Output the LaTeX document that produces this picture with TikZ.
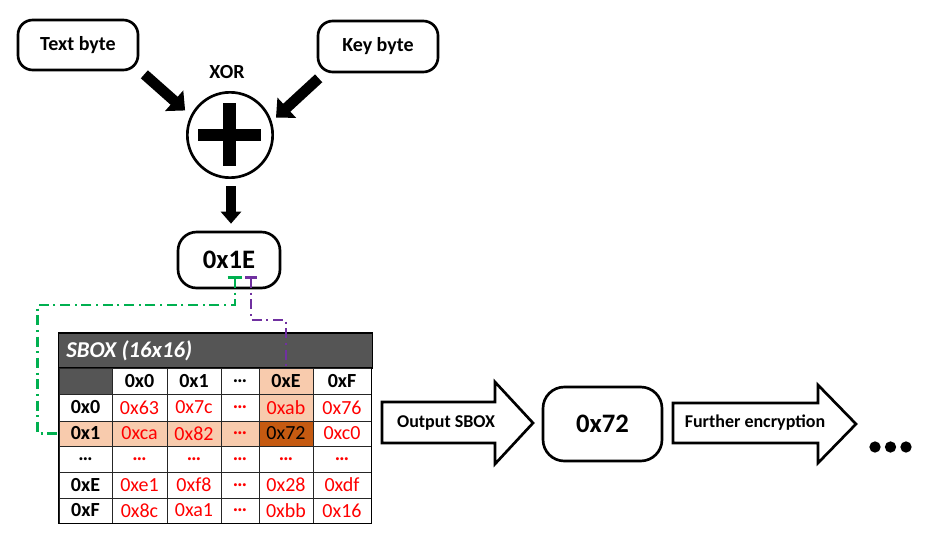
\documentclass[tikz,border=0pt]{standalone}
\usepackage{fontspec}
\setmainfont{Carlito}
\usetikzlibrary{arrows.meta}
\definecolor{lorange}{HTML}{F8CBAD}
\definecolor{dorange}{HTML}{C55A11}
\definecolor{hdrgrey}{HTML}{555555}
\definecolor{xgreen}{HTML}{00B050}
\definecolor{xpurple}{HTML}{7030A0}
\definecolor{vred}{HTML}{FF0000}
\begin{document}
\begin{tikzpicture}[x=0.75pt,y=-0.75pt,
  rbox/.style={draw, line width=2pt, rounded corners=11pt, inner sep=0pt, font=\bfseries\fontsize{15}{18}\selectfont},
  bigbox/.style={draw, line width=2pt, rounded corners=14pt, inner sep=0pt, font=\bfseries\fontsize{20}{24}\selectfont},
  fatarrow/.style={line width=8pt, -{Triangle[length=11pt,width=20pt]}},
  blockarrow/.style={draw, line width=2pt, fill=white, line join=miter},
  arrlabel/.style={font=\bfseries\fontsize{13.5}{16}\selectfont, inner sep=0pt},
  tcell/.style={draw=black!85, line width=0.7pt, inner sep=0pt, font=\fontsize{15}{18}\selectfont},
  hcell/.style={tcell, font=\bfseries\fontsize{15}{18}\selectfont},
  vcell/.style={tcell, text=vred},
  ptr/.style={line width=1.9pt, dash pattern=on 7.5pt off 3.5pt on 1.5pt off 3.5pt},
  dot/.style={circle, fill=black, inner sep=0pt, minimum size=8.5pt}
]
\useasboundingbox (0,0) rectangle (930,535);

% ---------- top part ----------
\node[rbox, minimum width=90pt, minimum height=37.5pt] (tb) at (78,45) {Text byte};
\node[rbox, minimum width=90pt, minimum height=38.25pt] (kb) at (378,46.5) {Key byte};
\node[font=\bfseries\fontsize{15}{18}\selectfont, inner sep=0pt] (xorlbl) at (227,72) {XOR};
\node[circle, draw, line width=2pt, minimum size=64pt, inner sep=0pt] (xor) at (230,135) {};
\fill ([shift={(-32,-6)}]xor.center) rectangle ([shift={(31,6)}]xor.center);
\fill ([shift={(-7,-32)}]xor.center) rectangle ([shift={(6,31)}]xor.center);

\draw[fatarrow] ([shift={(5,3)}]tb.south east) -- ([shift={(-6.4,-3.2)}]xor.151);
\draw[fatarrow] ([shift={(2,5)}]kb.south west) -- ([shift={(4.9,-1.6)}]xor.21);

\node[bigbox, minimum width=76.5pt, minimum height=42pt] (x1e) at (229,260) {0x1E};
\draw[line width=7pt, -{Triangle[length=9pt,width=15pt]}] ([shift={(1,7)}]xor.south) -- ([shift={(2,-7)}]x1e.north);

% ---------- table ----------
\node[draw=black, line width=1pt, fill=hdrgrey, minimum width=235.5pt, minimum height=26.25pt, inner sep=0pt] (title) at (215.5,350.5) {};
\node[anchor=west, text=white, font=\bfseries\itshape\fontsize{17}{20}\selectfont, inner sep=0pt] (titletxt) at (66,350.5) {SBOX (16x16)};

% header row (y 381, h 19.5pt)
\node[tcell, fill=hdrgrey, minimum width=39.75pt, minimum height=19.5pt] (corner) at (85.5,381) {};
\node[hcell, fill=white, minimum width=41.25pt, minimum height=19.5pt] (h0) at (139.5,381) {0x0};
\node[hcell, fill=white, minimum width=40.5pt, minimum height=19.5pt] (h1) at (194,381) {0x1};
\node[hcell, fill=white, minimum width=28.5pt, minimum height=19.5pt] (hd) at (240,381) {…};
\node[hcell, fill=lorange, minimum width=40.5pt, minimum height=19.5pt] (hE) at (286,381) {0xE};
\node[hcell, fill=white, minimum width=43.5pt, minimum height=19.5pt] (hF) at (342,381) {0xF};

% row 0x0 (y 407.5, h 20.25pt)
\node[hcell, fill=white, minimum width=39.75pt, minimum height=20.25pt] (r0) at (85.5,407.5) {0x0};
\node[vcell, fill=white, minimum width=41.25pt, minimum height=20.25pt] (v00) at (139.5,407.5) {0x63};
\node[vcell, fill=white, minimum width=40.5pt, minimum height=20.25pt] (v01) at (194,407.5) {0x7c};
\node[vcell, fill=white, minimum width=28.5pt, minimum height=20.25pt, font=\bfseries\fontsize{15}{18}\selectfont] (v0d) at (240,407.5) {…};
\node[vcell, fill=lorange, minimum width=40.5pt, minimum height=20.25pt] (v0E) at (286,407.5) {0xab};
\node[vcell, fill=white, minimum width=43.5pt, minimum height=20.25pt] (v0F) at (342,407.5) {0x76};

% row 0x1 (y 433.5, h 18.75pt)
\node[hcell, fill=lorange, minimum width=39.75pt, minimum height=18.75pt] (r1) at (85.5,433.5) {0x1};
\node[vcell, fill=lorange, minimum width=41.25pt, minimum height=18.75pt] (v10) at (139.5,433.5) {0xca};
\node[vcell, fill=lorange, minimum width=40.5pt, minimum height=18.75pt] (v11) at (194,433.5) {0x82};
\node[vcell, fill=lorange, minimum width=28.5pt, minimum height=18.75pt, font=\bfseries\fontsize{15}{18}\selectfont] (v1d) at (240,433.5) {…};
\node[tcell, fill=dorange, text=black, minimum width=40.5pt, minimum height=18.75pt] (v1E) at (286,433.5) {0x72};
\node[vcell, fill=white, minimum width=43.5pt, minimum height=18.75pt] (v1F) at (342,433.5) {0xc0};

% row ... (y 459, h 19.5pt)
\node[hcell, fill=white, minimum width=39.75pt, minimum height=19.5pt] (rd) at (85.5,459) {…};
\node[vcell, fill=white, minimum width=41.25pt, minimum height=19.5pt, font=\bfseries\fontsize{15}{18}\selectfont] (vd0) at (139.5,459) {…};
\node[vcell, fill=white, minimum width=40.5pt, minimum height=19.5pt, font=\bfseries\fontsize{15}{18}\selectfont] (vd1) at (194,459) {…};
\node[vcell, fill=white, minimum width=28.5pt, minimum height=19.5pt, font=\bfseries\fontsize{15}{18}\selectfont] (vdd) at (240,459) {…};
\node[vcell, fill=white, minimum width=40.5pt, minimum height=19.5pt, font=\bfseries\fontsize{15}{18}\selectfont] (vdE) at (286,459) {…};
\node[vcell, fill=white, minimum width=43.5pt, minimum height=19.5pt, font=\bfseries\fontsize{15}{18}\selectfont] (vdF) at (342,459) {…};

% row 0xE (y 485, h 19.5pt)
\node[hcell, fill=white, minimum width=39.75pt, minimum height=19.5pt] (rE) at (85.5,485) {0xE};
\node[vcell, fill=white, minimum width=41.25pt, minimum height=19.5pt] (vE0) at (139.5,485) {0xe1};
\node[vcell, fill=white, minimum width=40.5pt, minimum height=19.5pt] (vE1) at (194,485) {0xf8};
\node[vcell, fill=white, minimum width=28.5pt, minimum height=19.5pt, font=\bfseries\fontsize{15}{18}\selectfont] (vEd) at (240,485) {…};
\node[vcell, fill=white, minimum width=40.5pt, minimum height=19.5pt] (vEE) at (286,485) {0x28};
\node[vcell, fill=white, minimum width=43.5pt, minimum height=19.5pt] (vEF) at (342,485) {0xdf};

% row 0xF (y 510.5, h 18.75pt)
\node[hcell, fill=white, minimum width=39.75pt, minimum height=18.75pt] (rF) at (85.5,510.5) {0xF};
\node[vcell, fill=white, minimum width=41.25pt, minimum height=18.75pt] (vF0) at (139.5,510.5) {0x8c};
\node[vcell, fill=white, minimum width=40.5pt, minimum height=18.75pt] (vF1) at (194,510.5) {0xa1};
\node[vcell, fill=white, minimum width=28.5pt, minimum height=18.75pt, font=\bfseries\fontsize{15}{18}\selectfont] (vFd) at (240,510.5) {…};
\node[vcell, fill=white, minimum width=40.5pt, minimum height=18.75pt] (vFE) at (286,510.5) {0xbb};
\node[vcell, fill=white, minimum width=43.5pt, minimum height=18.75pt] (vFF) at (342,510.5) {0x16};

% outer border of the grid
\draw[line width=1.2pt] (corner.north west) rectangle (vFF.south east);

% ---------- pointers ----------
\coordinate (gT) at ([shift={(6,16)}]x1e.center);
\coordinate (pT) at ([shift={(22,16)}]x1e.center);
\draw[ptr, xgreen, {Bar[width=11pt,line width=2pt]}-] (gT) -- ++(0,29) -| ([xshift=-15.75pt]r1.west) -- ([xshift=-1.5pt]r1.west);
\draw[ptr, xpurple, {Bar[width=9pt,line width=2pt]}-] (pT) -- ++(0,44) -| (hE.north);

% ---------- output part ----------
\draw[blockarrow] (382,402) -- (495,402) -- (495,382) -- (533,423) -- (495,464) -- (495,443) -- (382,443) -- cycle;
\node[arrlabel] (outlbl) at (446,423) {Output SBOX};
\node[bigbox, rounded corners=16pt, minimum width=89.25pt, minimum height=55.5pt] (out) at (602.5,424) {0x72};
\draw[blockarrow] (673,403) -- (818,403) -- (818,385) -- (856,424) -- (818,463) -- (818,443) -- (673,443) -- cycle;
\node[arrlabel] (furtherlbl) at (755,423) {Further encryption};
\node[dot] (d1) at (875,447) {};
\node[dot] (d2) at (890.5,447) {};
\node[dot] (d3) at (906,447) {};
\end{tikzpicture}
\end{document}
